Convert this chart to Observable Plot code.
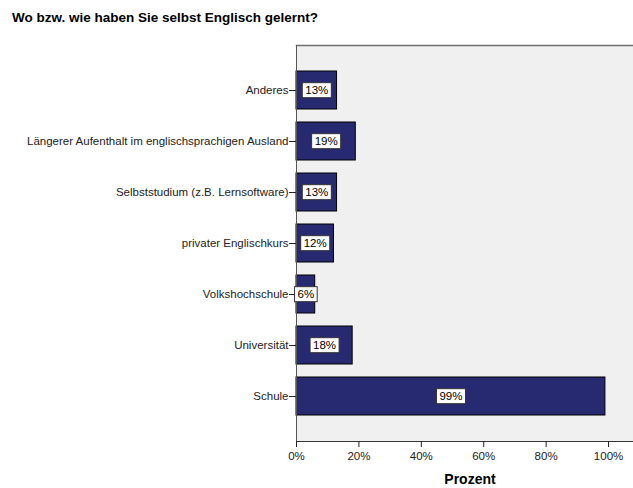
<!DOCTYPE html>
<html><head><meta charset="utf-8">
<script src="https://cdn.jsdelivr.net/npm/d3@7"></script>
<script src="https://cdn.jsdelivr.net/npm/@observablehq/plot@0.6"></script>
<style>
body{margin:0;background:#fff;font-family:"Liberation Sans",Arial,sans-serif;}
#title{height:30px;box-sizing:border-box;padding:10px 0 0 12px;font-size:13.5px;font-weight:bold;color:#000;line-height:16px;}
svg{display:block}
</style></head><body>
<div id="title">Wo bzw. wie haben Sie selbst Englisch gelernt?</div>
<div id="chart"></div>
<script>
const categories = ["Anderes","Längerer Aufenthalt im englischsprachigen Ausland","Selbststudium (z.B. Lernsoftware)","privater Englischkurs","Volkshochschule","Universität","Schule"];
const values = [13, 19, 13, 12, 6, 18, 99];
const xTicks = [0, 20, 40, 60, 80, 100];
const data = categories.map((c, i) => ({category: c, value: values[i]}));

const chart = Plot.plot({
  width: 633,
  height: 458,
  marginLeft: 296,
  marginRight: 0,
  marginTop: 15,
  marginBottom: 47,
  style: {fontFamily: "'Liberation Sans', Arial, sans-serif", fontSize: "11.5px", color: "#000", background: "#fff"},
  x: {domain: [0, 108], ticks: xTicks, tickFormat: d => d + "%"},
  y: {domain: categories, paddingInner: 0.25, paddingOuter: 0.47},
  marks: [
    Plot.frame({fill: "#f0f0f0", stroke: null}),
    Plot.frame({anchor: "top", stroke: "#6e6e6e", strokeWidth: 1.5}),
    Plot.barX(data, {x: "value", y: "category", fill: "#272a70", stroke: "#000", strokeWidth: 1}),
    Plot.frame({anchor: "left", stroke: "#555"}),
    Plot.frame({anchor: "bottom", stroke: "#333"}),
    Plot.axisY({tickSize: 7, tickPadding: 1, stroke: "#222", label: null, fill: "#222"}),
    Plot.axisX({ticks: xTicks, tickFormat: d => d + "%", tickSize: 6, tickPadding: 4, stroke: "#222", fill: "#222", label: null}),
    Plot.text(["Prozent"], {frameAnchor: "bottom", dy: 42, dx: 5, fontSize: 14, fontWeight: "bold", fill: "#000"}),
    Plot.text(data, {x: d => d.value / 2, y: "category", text: d => d.value + "%", fill: "#000", className: "vlab"})
  ]
});
document.getElementById("chart").append(chart);

// draw white boxes behind value labels
chart.querySelectorAll(".vlab text").forEach(t => {
  const b = t.getBBox();
  const r = document.createElementNS("http://www.w3.org/2000/svg", "rect");
  r.setAttribute("x", b.x - 3);
  r.setAttribute("y", b.y - 1.5);
  r.setAttribute("width", b.width + 6);
  r.setAttribute("height", b.height + 3);
  r.setAttribute("fill", "#fff");
  r.setAttribute("stroke", "#333");
  r.setAttribute("stroke-width", "1");
  if (t.getAttribute("transform")) r.setAttribute("transform", t.getAttribute("transform"));
  t.parentNode.insertBefore(r, t);
});
</script>
</body></html>
